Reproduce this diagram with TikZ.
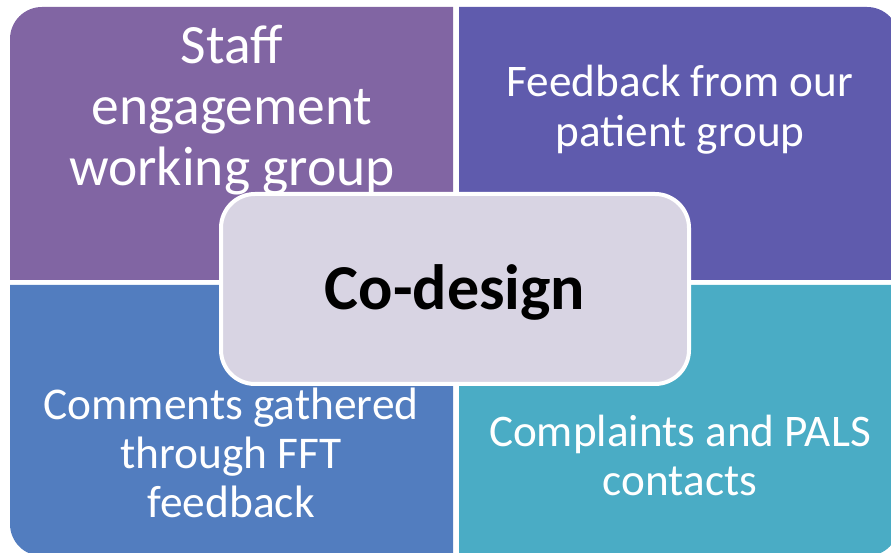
\documentclass[tikz,border=0pt]{standalone}
\usepackage{fontspec}
\setmainfont{Carlito}
\usetikzlibrary{calc}
\definecolor{quadTL}{HTML}{8165A3}
\definecolor{quadTR}{HTML}{5F5BAD}
\definecolor{quadBL}{HTML}{527DBF}
\definecolor{quadBR}{HTML}{4AACC5}
\definecolor{hubfill}{HTML}{D8D4E3}
\tikzstyle{quadtext}=[text=white,align=center,inner sep=0pt]
\tikzstyle{hubbox}=[rounded corners=34pt,draw=white,line width=4pt,fill=hubfill,minimum width=468pt,minimum height=190pt,inner sep=0pt]

\begin{document}
\begin{tikzpicture}[x=1pt,y=1pt]
  \clip (0,0) rectangle (891,553);

  \def\r{32};
  \def\gl{453};
  \def\gr{459};

%quadrants
  \fill[quadTL] (\gl,273) -- (10,273) -- (10,546-\r) arc[start angle=180,end angle=90,radius=\r] -- (\gl,546) -- cycle;
  \fill[quadTR] (\gr,273) -- (\gr,546) -- (899-\r,546) arc[start angle=90,end angle=0,radius=\r] -- (899,273) -- cycle;
  \fill[quadBL] (\gl,268) -- (10,268) -- (10,-3+\r) arc[start angle=180,end angle=270,radius=\r] -- (\gl,-3) -- cycle;
  \fill[quadBR] (\gr,268) -- (899,268) -- (899,-3+\r) arc[start angle=0,end angle=-90,radius=\r] -- (\gr,-3) -- cycle;

%labels
  \node[quadtext,font=\fontsize{55.5}{61}\selectfont] (staff) at (232,443) {Staff\\engagement\\working group};
  \node[quadtext,font=\fontsize{45.2}{50}\selectfont] (patient) at (680,443) {Feedback from our\\patient group};
  \node[quadtext,font=\fontsize{45.4}{49}\selectfont] (fft) at (231,100) {Comments gathered\\through FFT\\feedback};
  \node[quadtext,font=\fontsize{45.2}{49}\selectfont] (pals) at (680,98) {Complaints and PALS\\contacts};

%centre
  \node[hubbox] (hub) at (455,264) {};
  \node[font=\fontsize{64}{70}\selectfont\bfseries,inner sep=0pt] (codesign) at ($(hub)+(0,-3)$) {Co-design};

\end{tikzpicture}
\end{document}
